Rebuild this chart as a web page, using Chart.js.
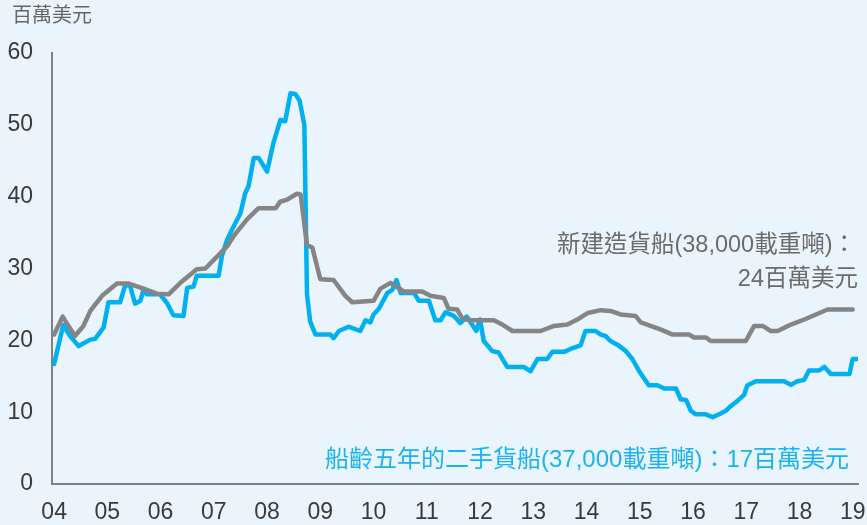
<!DOCTYPE html>
<html>
<head>
<meta charset="utf-8">
<script src="https://cdn.jsdelivr.net/npm/chart.js@4"></script>
<style>
  html, body { margin: 0; padding: 0; background: #eaf4fd; }
  canvas { display: block; }
</style>
</head>
<body>
<canvas id="grafik" width="867" height="525"></canvas>
<script>
// tahun (desimal) dan nilai
const newYears = [2004.00, 2004.16, 2004.39, 2004.55, 2004.68, 2004.90, 2005.18, 2005.40, 2005.68, 2005.93,
  2006.15, 2006.40, 2006.68, 2006.84, 2007.00, 2007.25, 2007.37, 2007.62, 2007.84, 2008.16,
  2008.25, 2008.38, 2008.56, 2008.63, 2008.75, 2008.85, 2009.00, 2009.25, 2009.47, 2009.60,
  2010.00, 2010.13, 2010.32, 2010.57, 2010.91, 2011.07, 2011.32, 2011.41, 2011.57, 2011.67,
  2011.82, 2012.26, 2012.42, 2012.61, 2013.14, 2013.39, 2013.64, 2013.83, 2014.02, 2014.27,
  2014.45, 2014.64, 2014.92, 2015.02, 2015.40, 2015.62, 2015.93, 2016.02, 2016.24, 2016.34,
  2016.99, 2017.15, 2017.31, 2017.46, 2017.59, 2017.84, 2018.09, 2018.31, 2018.53, 2019.00];
const newPrice = [20.8, 23.3, 20.6, 22.0, 24.1, 26.2, 27.9, 27.9, 27.2, 26.5,
  26.4, 28.2, 29.9, 30.0, 31.2, 33.1, 34.5, 36.8, 38.4, 38.4,
  39.3, 39.6, 40.4, 40.3, 33.3, 32.9, 28.5, 28.4, 26.2, 25.3,
  25.5, 27.2, 28.0, 26.8, 26.8, 26.2, 25.9, 24.4, 24.3, 23.0,
  22.8, 22.8, 22.2, 21.3, 21.3, 22.0, 22.2, 22.9, 23.8, 24.2,
  24.1, 23.6, 23.4, 22.5, 21.5, 20.8, 20.8, 20.4, 20.4, 19.9,
  19.9, 22.0, 22.0, 21.3, 21.3, 22.2, 22.9, 23.6, 24.3, 24.3];

const usedYears = [2004.00, 2004.17, 2004.30, 2004.46, 2004.68, 2004.77, 2004.93, 2005.02, 2005.24, 2005.34,
  2005.43, 2005.52, 2005.62, 2005.68, 2005.74, 2005.99, 2006.12, 2006.24, 2006.43, 2006.50,
  2006.62, 2006.68, 2007.09, 2007.15, 2007.25, 2007.34, 2007.50, 2007.59, 2007.65, 2007.75,
  2007.84, 2008.00, 2008.12, 2008.25, 2008.34, 2008.44, 2008.53, 2008.61, 2008.70, 2008.75,
  2008.81, 2008.91, 2009.19, 2009.25, 2009.35, 2009.53, 2009.75, 2009.85, 2009.94, 2010.00,
  2010.10, 2010.26, 2010.35, 2010.43, 2010.51, 2010.76, 2010.85, 2011.04, 2011.16, 2011.26,
  2011.35, 2011.51, 2011.63, 2011.75, 2011.85, 2011.93, 2012.00, 2012.07, 2012.23, 2012.35,
  2012.51, 2012.82, 2012.95, 2013.08, 2013.26, 2013.36, 2013.58, 2013.70, 2013.89, 2013.98,
  2014.17, 2014.27, 2014.36, 2014.45, 2014.58, 2014.74, 2014.86, 2014.99, 2015.17, 2015.33,
  2015.46, 2015.68, 2015.77, 2015.87, 2015.96, 2016.05, 2016.24, 2016.37, 2016.49, 2016.62,
  2016.72, 2016.84, 2016.96, 2017.02, 2017.18, 2017.71, 2017.84, 2017.96, 2018.09, 2018.18,
  2018.37, 2018.47, 2018.59, 2018.94, 2019.00, 2019.09];
const usedPrice = [16.7, 22.1, 20.6, 19.2, 20.1, 20.2, 21.8, 25.3, 25.3, 27.8,
  27.5, 25.1, 25.5, 27.1, 26.4, 26.4, 25.2, 23.5, 23.4, 27.3,
  27.5, 29.0, 29.0, 31.7, 34.0, 35.4, 37.7, 40.5, 41.4, 45.4,
  45.4, 43.5, 47.5, 50.7, 50.5, 54.4, 54.3, 53.4, 50.0, 26.4,
  22.6, 20.8, 20.8, 20.3, 21.3, 21.9, 21.3, 22.8, 22.5, 23.6,
  24.4, 26.6, 27.0, 28.4, 26.6, 26.6, 25.5, 25.5, 22.8, 22.8,
  23.9, 23.4, 22.4, 23.3, 22.2, 21.3, 22.9, 19.9, 18.5, 18.3,
  16.3, 16.3, 15.7, 17.4, 17.4, 18.4, 18.4, 18.8, 19.3, 21.3,
  21.3, 20.8, 20.6, 19.9, 19.4, 18.5, 17.4, 15.7, 13.75, 13.75,
  13.3, 13.3, 11.8, 11.7, 10.2, 9.7, 9.7, 9.3, 9.7, 10.2,
  10.9, 11.6, 12.4, 13.7, 14.3, 14.3, 13.8, 14.3, 14.5, 15.8,
  15.8, 16.3, 15.3, 15.3, 17.4, 17.4];

const tickYears = [2004, 2005, 2006, 2007, 2008, 2009, 2010, 2011, 2012, 2013, 2014, 2015, 2016, 2017, 2018, 2019];
const tickLabels = ['04', '05', '06', '07', '08', '09', '10', '11', '12', '13', '14', '15', '16', '17', '18', '19'];

const fontUtama = '"Liberation Sans", "Noto Sans CJK TC", sans-serif';

const latar = {
  id: 'latar',
  beforeDraw(chart) {
    const c = chart.ctx;
    c.save();
    c.fillStyle = '#eaf4fd';
    c.fillRect(0, 0, chart.width, chart.height);
    c.restore();
  }
};

const teks = {
  id: 'teks',
  afterDraw(chart) {
    const c = chart.ctx;
    c.save();
    c.textBaseline = 'middle';
    // satuan sumbu
    c.font = '20px ' + fontUtama;
    c.fillStyle = '#666666';
    c.textAlign = 'left';
    c.fillText('百萬美元', 12, 16);
    // label seri abu-abu
    c.font = '23.5px ' + fontUtama;
    c.fillStyle = '#6b6b6b';
    c.textAlign = 'right';
    c.fillText('新建造貨船(38,000載重噸)：', 856, 246);
    c.fillText('24百萬美元', 858, 280);
    // label seri biru
    c.font = '24px ' + fontUtama;
    c.fillStyle = '#1ab3ef';
    c.textAlign = 'left';
    c.fillText('船齡五年的二手貨船(37,000載重噸)：17百萬美元', 325, 460);
    c.restore();
  }
};

const toPoints = (xs, ys) => xs.map((x, i) => ({ x: x, y: ys[i] }));

new Chart(document.getElementById('grafik').getContext('2d'), {
  type: 'line',
  data: {
    datasets: [
      {
        label: '新建造貨船',
        data: toPoints(newYears, newPrice),
        borderColor: '#858585',
        borderWidth: 4.5,
        pointRadius: 0,
        tension: 0,
        borderJoinStyle: 'round',
        borderCapStyle: 'round'
      },
      {
        label: '二手貨船',
        data: toPoints(usedYears, usedPrice),
        borderColor: '#00b0f0',
        borderWidth: 4.5,
        pointRadius: 0,
        tension: 0,
        borderJoinStyle: 'round',
        borderCapStyle: 'round'
      }
    ]
  },
  options: {
    responsive: false,
    animation: false,
    layout: { padding: { top: 53, right: 9, left: 0, bottom: 0 } },
    plugins: {
      legend: { display: false },
      tooltip: { enabled: false }
    },
    scales: {
      x: {
        type: 'linear',
        min: 2003.96,
        max: 2019.1,
        afterBuildTicks: (s) => { s.ticks = tickYears.map(v => ({ value: v })); },
        afterFit: (s) => { s.height = 41; s.paddingLeft = 0; s.paddingRight = 0; },
        grid: { display: false, drawTicks: false },
        border: { display: true, color: '#808080', width: 2 },
        ticks: {
          color: '#3a3a3a',
          font: { size: 23, family: fontUtama },
          padding: 15,
          maxRotation: 0,
          autoSkip: false,
          callback: (v) => {
            const i = tickYears.indexOf(v);
            return i >= 0 ? tickLabels[i] : '';
          }
        }
      },
      y: {
        min: 0,
        max: 60,
        afterFit: (s) => { s.width = 52; },
        grid: { display: false, drawTicks: false },
        border: { display: true, color: '#808080', width: 2 },
        ticks: {
          stepSize: 10,
          color: '#3a3a3a',
          font: { size: 23, family: fontUtama },
          padding: 19
        }
      }
    }
  },
  plugins: [latar, teks]
});
</script>
</body>
</html>
